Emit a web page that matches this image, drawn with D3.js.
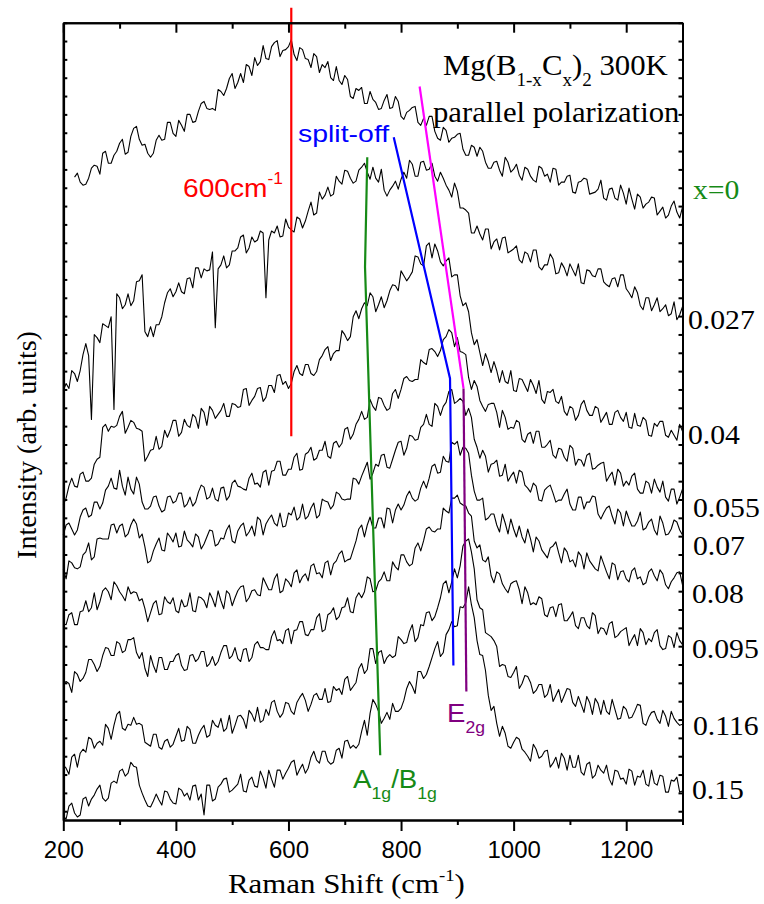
<!DOCTYPE html>
<html>
<head>
<meta charset="utf-8">
<script src="https://d3js.org/d3.v7.min.js"></script>
<style>
  html, body { margin: 0; padding: 0; background: #fff; }
  svg { display: block; }
</style>
</head>
<body>
<svg id="chart" width="764" height="904"></svg>
<script>
// ---------------- DATA ----------------
// Raman shift sample positions (cm^-1), every 5 cm^-1 from 200 to 1300
const shifts = d3.range(200, 1301, 5);

// Composition labels (top to bottom)
const compositions = ["x=0", "0.027", "0.04", "0.055", "0.07", "0.08", "0.095", "0.116", "0.15"];

// Intensities (arb. units, vertically offset stack), one value per shift
const sX000 = [null,null,null,null,645,649,640,637,638,644,654,657,656,648,669,671,659,659,667,671,
  679,683,668,670,686,694,696,683,677,678,669,665,669,682,687,682,683,700,700,689,
  686,702,697,691,708,708,700,701,711,719,721,714,713,714,712,733,731,727,734,744,
  749,734,740,749,740,758,756,747,765,757,761,777,764,763,776,780,782,766,772,773,
  776,783,768,762,775,773,764,763,755,769,766,750,758,755,761,745,742,756,742,738,
  747,743,726,724,734,732,735,719,719,731,723,720,713,714,722,728,714,715,726,721,
  706,703,710,712,715,716,700,697,704,697,706,706,691,684,682,695,692,680,684,685,
  688,689,673,667,667,677,675,666,675,671,660,654,654,660,661,652,646,665,660,650,
  653,658,647,642,655,653,646,642,640,656,654,646,648,640,654,653,637,640,640,646,
  647,630,629,640,641,644,643,628,629,630,633,642,624,622,633,634,624,622,637,629,
  618,634,623,613,628,625,614,618,620,625,624,607,611,615,604,607,616,621,610,604,
  615];
const sX027 = [431,438,433,451,448,440,451,467,478,466,402,487,484,479,498,496,494,505,412,528,
  524,513,517,528,516,521,540,541,547,490,485,495,485,497,497,505,519,529,533,525,
  530,539,530,528,543,544,534,554,554,544,553,551,552,570,494,553,557,566,554,557,
  571,571,574,585,587,569,574,585,580,582,591,589,524,582,591,589,596,585,586,603,
  595,592,590,605,603,594,601,611,620,607,609,630,623,627,635,626,628,646,641,638,
  652,651,644,639,641,652,655,659,650,643,655,644,640,653,632,626,632,636,641,633,
  643,650,644,662,658,646,646,660,661,652,653,659,646,641,650,644,637,632,625,639,
  631,614,614,612,609,589,589,596,588,582,593,593,573,580,583,572,584,585,569,571,
  573,576,562,559,570,568,560,572,572,555,552,557,557,568,563,548,549,559,554,546,
  558,552,546,558,539,538,552,551,546,545,553,553,540,537,535,543,544,535,547,547,
  533,529,524,535,529,516,512,524,524,511,517,524,510,513,517,506,508,520,502,507,
  515];
const sX040 = [316,323,335,343,335,334,347,349,340,340,343,357,362,364,394,397,390,395,394,396,
  405,410,388,394,401,399,393,392,390,360,365,371,372,385,372,375,391,384,391,401,
  401,385,389,402,396,394,407,404,393,413,409,396,415,411,403,407,411,418,405,405,
  418,417,414,415,432,433,416,421,425,433,434,420,424,436,436,429,446,447,437,440,
  433,438,450,456,448,446,457,457,448,446,450,462,466,472,475,461,468,471,471,491,
  487,481,485,505,511,503,513,519,516,529,525,510,517,525,514,521,531,537,536,531,
  551,546,541,545,550,566,565,558,556,576,579,564,578,571,560,556,561,564,545,547,
  547,526,516,519,510,489,477,482,469,456,468,460,449,460,451,439,451,440,438,451,
  431,430,443,442,436,430,442,436,428,441,422,418,430,429,432,420,418,425,410,406,
  415,413,401,406,417,421,411,406,406,415,413,399,404,409,397,397,409,411,404,400,
  409,394,393,408,396,395,404,401,386,385,398,395,400,400,386,384,391,386,381,397,
  390];
const sX055 = [286,296,298,292,286,291,304,311,313,304,306,319,319,312,318,331,335,343,333,332,
  351,335,326,344,332,327,344,337,319,312,312,315,324,325,315,309,311,324,325,318,
  320,328,328,314,317,324,315,319,329,336,334,322,324,333,322,320,333,334,321,325,
  338,341,335,334,332,331,343,348,337,338,334,349,351,336,350,351,360,360,346,346,
  352,352,364,368,351,352,367,369,374,361,363,371,371,380,365,363,378,380,374,378,
  392,394,382,387,397,402,410,402,404,422,415,411,424,423,416,411,413,428,432,423,
  432,443,445,441,440,442,442,462,459,457,472,473,470,465,471,482,485,492,489,475,
  484,470,469,467,444,432,441,435,421,415,410,417,418,418,409,394,411,404,392,394,
  393,401,399,382,379,387,389,378,390,390,374,374,377,381,366,363,373,372,364,360,
  376,373,356,362,361,355,366,368,352,353,356,358,359,340,345,349,336,352,348,335,
  340,336,345,348,332,328,328,340,338,328,342,334,329,340,324,320,332,332,317,324,
  332];
const sX070 = [252,242,260,258,253,252,254,266,269,278,261,264,282,283,282,282,282,296,297,288,
  295,297,284,287,296,302,297,283,287,274,258,260,270,277,283,271,270,288,284,279,
  288,274,275,290,281,278,274,287,284,272,277,284,291,290,275,277,283,282,291,296,
  280,278,290,295,298,285,289,295,285,304,301,286,297,302,306,298,295,308,294,295,
  308,306,314,301,304,317,302,305,313,318,303,306,322,320,319,312,316,329,327,322,
  321,322,322,343,342,337,345,352,359,342,348,357,355,366,367,354,353,362,371,379,
  380,366,373,386,385,381,382,394,397,407,397,395,418,415,406,415,419,430,432,418,
  420,423,420,406,413,404,382,374,363,371,365,349,357,358,361,345,346,357,340,345,
  349,338,351,349,336,333,329,338,335,321,320,331,334,336,328,319,321,321,327,332,
  317,311,311,324,324,312,319,319,325,324,307,302,308,313,315,305,297,312,308,295,
  310,302,295,295,300,309,291,293,299,302,291,286,305,298,286,287,292,301,299,291,
  286];
const sX080 = [197,196,206,208,196,196,209,210,220,209,213,228,211,219,230,233,229,221,239,235,
  229,225,220,234,227,229,228,220,222,212,199,208,217,220,206,207,224,219,217,223,
  210,208,221,214,215,228,210,209,224,223,220,213,228,222,214,230,220,212,230,227,
  215,223,230,234,235,219,223,230,231,226,225,243,237,231,231,242,247,228,230,242,
  239,234,248,251,238,244,247,240,255,257,247,248,243,258,260,246,257,260,267,270,
  259,261,262,271,280,292,296,284,296,304,293,293,303,303,293,313,312,298,311,317,
  311,316,325,330,323,320,322,333,340,333,343,355,357,348,349,365,360,359,379,377,
  380,366,374,373,368,346,330,321,321,323,301,303,307,307,296,289,307,298,287,302,
  292,284,295,284,278,292,282,269,284,280,271,267,263,273,275,279,268,258,273,269,
  259,261,254,269,265,252,268,260,256,252,250,265,257,249,242,258,256,241,249,250,
  242,239,250,253,242,244,236,238,249,252,245,240,251,247,236,232,239,243,248,249,
  236];
const sX095 = [136,139,137,128,149,146,139,142,148,161,161,156,149,154,165,173,172,165,165,179,
  177,168,170,181,181,183,168,162,168,152,144,165,155,148,163,163,151,151,159,159,
  165,167,155,150,151,165,166,159,162,169,169,154,157,164,155,159,168,175,175,162,
  165,173,162,159,171,172,159,163,176,179,173,173,171,171,184,190,180,181,177,190,
  192,177,190,191,199,199,186,185,191,191,203,207,189,191,206,208,213,201,204,213,
  214,223,209,208,223,228,223,229,244,242,229,230,239,242,249,240,240,259,254,251,
  266,266,259,255,257,273,278,270,280,292,294,290,289,292,292,313,310,308,323,323,
  326,318,316,315,308,305,280,273,276,261,259,264,245,238,249,247,237,232,228,237,
  239,240,231,217,234,228,216,218,216,224,222,206,204,213,214,204,216,217,200,200,
  204,209,195,192,203,203,195,192,208,205,187,193,192,186,197,199,183,185,189,191,
  193,175,181,186,175,192,188,176,182,179,188,191,175,171,172,185,183,173,188,180,
  176];
const sX116 = [55,52,46,63,66,53,67,71,68,83,81,72,77,79,75,96,92,81,95,106,
  109,92,90,96,95,103,96,97,95,78,76,74,86,86,73,71,79,81,73,76,
  84,92,79,80,94,91,77,77,85,91,95,83,85,100,95,93,102,89,92,105,
  87,95,104,105,101,92,110,106,99,113,98,100,111,105,118,120,109,103,107,118,
  117,109,106,118,123,127,120,109,116,125,127,121,121,132,118,119,134,130,132,126,
  141,144,130,134,138,152,157,147,151,172,172,157,168,170,157,163,166,163,165,184,
  181,177,178,189,196,179,183,196,195,208,209,200,204,213,223,237,240,228,239,252,
  243,255,275,280,282,269,252,221,213,211,188,186,184,180,174,154,156,155,144,143,
  148,154,132,137,145,144,138,127,130,136,136,123,126,136,119,125,131,118,125,132,
  131,118,114,124,116,108,124,118,106,122,117,106,120,109,106,121,111,101,102,114,
  111,102,103,109,116,115,97,95,103,108,109,101,97,110,104,94,109,102,98,95,
  96];
const sX150 = [4,1,14,17,7,3,5,21,23,14,21,25,31,35,22,19,22,37,39,37,
  49,51,44,47,58,54,53,35,27,20,14,13,19,26,20,15,29,28,21,17,
  16,32,30,24,27,20,34,35,20,26,5,35,35,19,21,33,36,41,42,28,
  30,33,36,46,29,28,40,43,34,33,49,42,32,50,41,33,50,50,41,47,
  52,58,60,45,51,56,47,52,63,69,60,57,69,69,59,56,58,70,72,62,
  79,80,72,75,72,76,89,100,85,107,121,116,109,97,102,108,101,117,109,109,
  112,120,132,139,134,127,149,149,142,146,154,163,172,179,164,168,186,191,199,194,
  195,214,213,218,234,216,203,180,166,165,150,125,110,114,97,84,94,87,74,72,
  78,83,81,71,68,64,59,76,71,62,64,69,70,53,57,63,52,67,62,50,
  65,53,53,65,48,45,56,58,42,45,55,50,47,55,41,35,50,49,41,42,
  36,51,49,35,44,43,50,36,34,50,37,35,45,44,28,28,40,39,43,28,
  29];

const spectra = [sX000, sX027, sX040, sX055, sX070, sX080, sX095, sX116, sX150];

// Guide lines (Raman shift, intensity)
const line600   = [[605, 815], [605, 385]];
const lineA1g   = [[740, 665], [736, 555], [763, 65]];
const lineSplit = [[787, 685], [887, 443], [893, 155]];
const lineMag   = [[833, 736], [911, 433]];
const lineE2g   = [[911, 433], [916, 129]];

// Axis ticks
const xMajorTicks = [200, 400, 600, 800, 1000, 1200];
const xMinorTicks = [300, 500, 700, 900, 1100, 1300];

// ---------------- CHART ----------------
const svg = d3.select("#chart");
const L = 63.3, R = 682.5, T = 22.7, B = 820;
const x = d3.scaleLinear().domain([200, 1300]).range([L, R]);
const y = d3.scaleLinear().domain([0, 800]).range([B, T]);
const SANS = "'Liberation Sans', Arial, sans-serif";
const SERIF = "'Liberation Serif', 'Times New Roman', serif";

const yTicks = d3.range(0, 44).map(k => 800 - k * 18.4);

// spectra
const line = d3.line()
  .defined(d => d[1] !== null)
  .x(d => x(d[0])).y(d => y(d[1]));

spectra.forEach(s => {
  svg.append("path")
    .datum(shifts.map((sh, i) => [sh, s[i]]))
    .attr("fill", "none")
    .attr("stroke", "#000")
    .attr("stroke-width", 1.1)
    .attr("stroke-linejoin", "round")
    .attr("d", line);
});

// guide lines
const gl = d3.line().x(d => x(d[0])).y(d => y(d[1]));
[[line600, "#ff0000"], [lineA1g, "#168a16"], [lineSplit, "#0000ff"],
 [lineMag, "#ff00ff"], [lineE2g, "#800080"]].forEach(([pts, col]) => {
  svg.append("path").attr("d", gl(pts)).attr("fill", "none")
    .attr("stroke", col).attr("stroke-width", 2.2);
});

// axes
function styleAxis(g) {
  g.select(".domain").attr("stroke", "#000").attr("stroke-width", 2);
  g.selectAll(".tick line").attr("stroke", "#000").attr("stroke-width", 2);
}
const axB = svg.append("g").attr("transform", `translate(0,${B})`)
  .call(d3.axisBottom(x).tickValues(xMajorTicks).tickSize(11).tickSizeOuter(0).tickFormat(d3.format("d")))
  .call(styleAxis);
axB.selectAll("text").attr("font-family", SANS).attr("font-size", 24).attr("fill", "#000")
  .attr("y", 38).attr("dy", null);
svg.append("g").attr("transform", `translate(0,${B})`)
  .call(d3.axisBottom(x).tickValues(xMinorTicks).tickSize(5).tickSizeOuter(0).tickFormat(""))
  .call(styleAxis);
svg.append("g").attr("transform", `translate(0,${T})`)
  .call(d3.axisTop(x).tickValues(xMajorTicks).tickSize(-10).tickSizeOuter(0).tickFormat(""))
  .call(styleAxis);
svg.append("g").attr("transform", `translate(0,${T})`)
  .call(d3.axisTop(x).tickValues(xMinorTicks).tickSize(-6).tickSizeOuter(0).tickFormat(""))
  .call(styleAxis);
svg.append("g").attr("transform", `translate(${L},0)`)
  .call(d3.axisLeft(y).tickValues(yTicks).tickSize(-4).tickSizeOuter(0).tickFormat(""))
  .call(styleAxis).select(".domain").attr("stroke-width", 2.6);
svg.append("g").attr("transform", `translate(${R},0)`)
  .call(d3.axisRight(y).tickValues(yTicks).tickSize(-4).tickSizeOuter(0).tickFormat(""))
  .call(styleAxis);

// text helper: place text starting at x0 and stretch to target width
function fitText(t, x0, w) {
  const bb = t.node().getBBox();
  const s = w ? w / bb.width : 1;
  t.attr("transform", `translate(${x0 - bb.x * s},0) scale(${s},1)`);
}
function addText(parts, x0, base, w, font, size, color) {
  const t = svg.append("text").attr("x", 0).attr("y", base)
    .attr("font-family", font).attr("font-size", size).attr("fill", color);
  parts.forEach(p => {
    const ts = t.append("tspan").text(p.t);
    if (p.dy) ts.attr("dy", p.dy);
    if (p.s) ts.attr("font-size", p.s);
  });
  fitText(t, x0, w);
  return t;
}

// title
addText([{t: "Mg(B"}, {t: "1-x", dy: 11, s: 18}, {t: "C", dy: -11}, {t: "x", dy: 11, s: 18},
         {t: ")", dy: -11}, {t: "2", dy: 11, s: 18}, {t: " 300K", dy: -11}],
        443, 75, 225, SERIF, 29, "#000");
addText([{t: "parallel polarization"}], 433, 122, 247, SERIF, 29, "#000");

// annotations
addText([{t: "600cm"}, {t: "-1", dy: -13, s: 16}], 183, 197, 100, SANS, 26, "#ff0000");
addText([{t: "split-off"}], 298, 142, 92, SANS, 23, "#0000ff");
addText([{t: "A"}, {t: "1g", dy: 11, s: 16}, {t: "/B", dy: -11}, {t: "1g", dy: 11, s: 16}],
        353, 788, 84, SANS, 25, "#168a16");
addText([{t: "E"}, {t: "2g", dy: 11, s: 16}], 447, 722, 38, SANS, 25, "#800080");

// composition labels
const labelY = [199, 329, 444, 517, 555, 603, 658, 735, 799];
const labelX = [693, 688, 688, 693, 693, 692, 692, 693, 692];
compositions.forEach((c, i) => {
  const t = svg.append("text").attr("x", 0).attr("y", labelY[i])
    .attr("font-family", SERIF).attr("font-size", 27)
    .attr("fill", i === 0 ? "#168a16" : "#000").text(c);
  const bb = t.node().getBBox();
  fitText(t, labelX[i], bb.width * 1.1);
});

// axis titles
addText([{t: "Raman Shift (cm"}, {t: "-1", dy: -12, s: 17}, {t: ")", dy: 12}],
        228, 893, 237, SERIF, 28, "#000");
svg.append("text")
  .attr("transform", "translate(36,445) rotate(-90)")
  .attr("text-anchor", "middle")
  .attr("font-family", SERIF).attr("font-size", 28).attr("fill", "#000")
  .text("Intensity (arb. units)");
</script>
</body>
</html>
